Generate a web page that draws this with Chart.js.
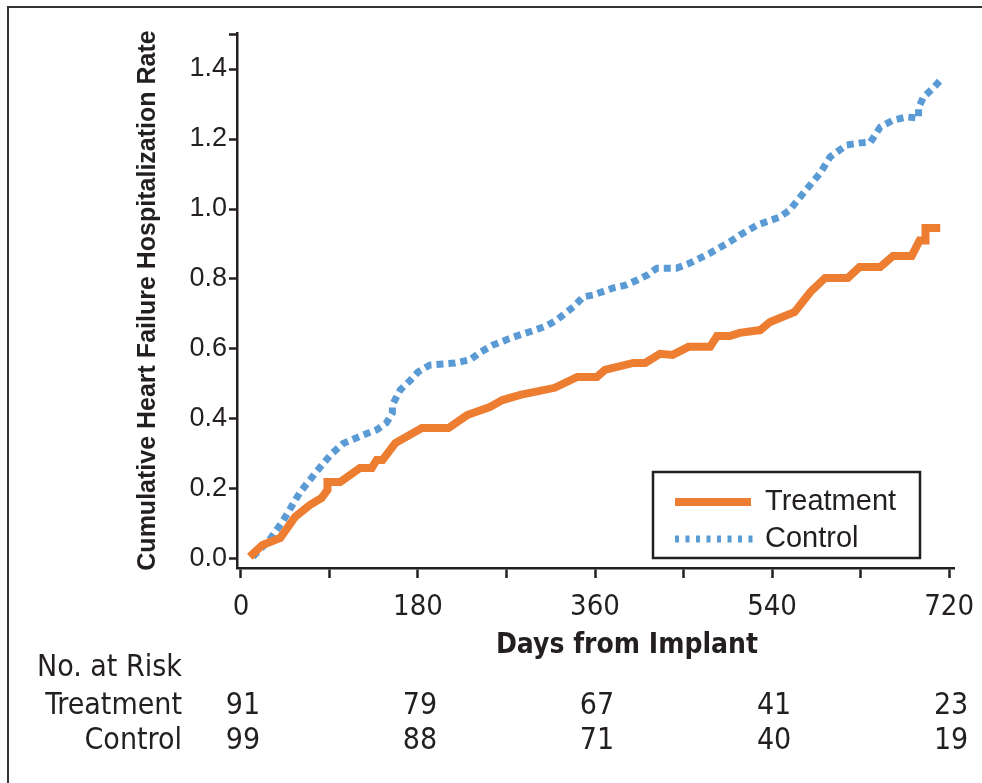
<!DOCTYPE html>
<html>
<head>
<meta charset="utf-8">
<script src="https://cdn.jsdelivr.net/npm/chart.js@4.4.0/dist/chart.umd.min.js"></script>
<style>
  html, body { margin: 0; padding: 0; background: #fff; }
  canvas { display: block; }
</style>
</head>
<body>
<canvas id="myChart" width="982" height="783"></canvas>
<script>
// cumulative HF hospitalization rate
const treatmentDays = [9, 22, 40, 55, 70, 82, 88, 88, 101, 121, 133, 138, 144, 157, 184, 211, 230, 253, 266, 284, 319, 342, 362, 370, 399, 411, 426, 439, 455, 477, 484, 497, 507, 528, 538, 563, 579, 594, 617, 629, 650, 663, 682, 690, 696, 696, 711];
const treatmentRate = [0.006, 0.04, 0.06, 0.12, 0.154, 0.174, 0.197, 0.22, 0.22, 0.26, 0.26, 0.283, 0.283, 0.331, 0.374, 0.374, 0.411, 0.434, 0.454, 0.469, 0.489, 0.52, 0.52, 0.54, 0.56, 0.56, 0.586, 0.583, 0.606, 0.606, 0.637, 0.637, 0.646, 0.654, 0.677, 0.706, 0.763, 0.803, 0.803, 0.834, 0.834, 0.866, 0.866, 0.91, 0.91, 0.946, 0.946];

const controlDays = [12, 29, 43, 60, 77, 91, 104, 124, 138, 148, 154, 154, 162, 172, 180, 192, 218, 233, 243, 256, 277, 299, 311, 321, 338, 348, 358, 378, 392, 403, 413, 423, 443, 457, 477, 497, 507, 525, 548, 558, 572, 589, 599, 616, 630, 640, 650, 663, 677, 689, 689, 694, 704, 713];
const controlRate = [0.006, 0.054, 0.11, 0.19, 0.25, 0.297, 0.33, 0.354, 0.369, 0.389, 0.417, 0.44, 0.483, 0.51, 0.534, 0.554, 0.56, 0.569, 0.59, 0.611, 0.634, 0.654, 0.666, 0.683, 0.72, 0.749, 0.754, 0.774, 0.783, 0.797, 0.811, 0.831, 0.831, 0.846, 0.874, 0.906, 0.925, 0.954, 0.977, 0.997, 1.046, 1.103, 1.149, 1.183, 1.189, 1.191, 1.234, 1.254, 1.263, 1.26, 1.29, 1.32, 1.346, 1.374];

const xTicks = [0, 90, 180, 270, 360, 450, 540, 630, 720];
const yTicks = [0, 0.2, 0.4, 0.6, 0.8, 1.0, 1.2, 1.4, 1.5];

// number at risk
const riskDays = [0, 180, 360, 540, 720];
const riskTreatment = [91, 79, 67, 41, 23];
const riskControl = [99, 88, 71, 40, 19];

const narrow = "'DejaVu Sans Condensed', 'Liberation Sans', sans-serif";
const regular = "'Liberation Sans', Arial, sans-serif";
const ink = '#231f20';

const extras = {
    id: 'extras',
    beforeDraw(chart) {
        const ctx = chart.ctx;
        ctx.save();
        ctx.fillStyle = '#fff';
        ctx.fillRect(0, 0, chart.width, chart.height);
        ctx.restore();
    },
    afterDraw(chart) {
        const ctx = chart.ctx;
        const x = chart.scales.x;
        const ds = chart.data.datasets;
        ctx.save();

        // outer frame (left + top only)
        ctx.strokeStyle = '#333';
        ctx.lineWidth = 2;
        ctx.beginPath();
        ctx.moveTo(8, 783);
        ctx.lineTo(8, 7);
        ctx.lineTo(982, 7);
        ctx.stroke();

        // legend box
        ctx.strokeStyle = ink;
        ctx.lineWidth = 2.5;
        ctx.strokeRect(653, 472, 267, 86);
        ctx.lineCap = 'butt';
        ctx.strokeStyle = ds[0].borderColor;
        ctx.lineWidth = 8;
        ctx.beginPath(); ctx.moveTo(675, 502); ctx.lineTo(751, 502); ctx.stroke();
        ctx.strokeStyle = ds[1].borderColor;
        ctx.lineWidth = 7;
        ctx.setLineDash([4, 6.5]);
        ctx.beginPath(); ctx.moveTo(675, 539); ctx.lineTo(753, 539); ctx.stroke();
        ctx.setLineDash([]);
        ctx.fillStyle = ink;
        ctx.font = '29px ' + regular;
        ctx.textAlign = 'left';
        ctx.textBaseline = 'middle';
        ctx.fillText(ds[0].label, 765, 502);
        ctx.fillText(ds[1].label, 765, 539);

        // x axis title, sits right of the axis centre in the original
        ctx.textAlign = 'center';
        ctx.font = 'bold 28px ' + narrow;
        ctx.fillText('Days from Implant', 627, 646);

        // number at risk table
        ctx.font = '30px ' + narrow;
        ctx.textAlign = 'left';
        ctx.fillText('No. at Risk', 37, 668);
        ctx.textAlign = 'right';
        ctx.fillText('Treatment', 182, 706);
        ctx.fillText('Control', 182, 741);
        ctx.textAlign = 'center';
        riskDays.forEach((d, i) => {
            const px = x.getPixelForValue(d);
            ctx.fillText(String(riskTreatment[i]), px + 2, 706);
            ctx.fillText(String(riskControl[i]), px + 2, 741);
        });
        ctx.restore();
    }
};

const ctx = document.getElementById('myChart').getContext('2d');

const myChart = new Chart(ctx, {
    type: 'line',
    data: {
        datasets: [{
            label: 'Treatment',
            data: treatmentDays.map((d, i) => ({ x: d, y: treatmentRate[i] })),
            borderColor: '#ED7D31',
            borderWidth: 8,
            pointRadius: 0,
            tension: 0,
            fill: false
        }, {
            label: 'Control',
            data: controlDays.map((d, i) => ({ x: d, y: controlRate[i] })),
            borderColor: '#5B9BD5',
            borderWidth: 7,
            borderDash: [7, 5],
            pointRadius: 0,
            tension: 0,
            fill: false
        }]
    },
    options: {
        responsive: false,
        animation: false,
        devicePixelRatio: 1,
        layout: { padding: { left: 133, right: 28, top: 33, bottom: 121 } },
        plugins: { legend: { display: false }, tooltip: { enabled: false } },
        scales: {
            x: {
                type: 'linear',
                min: -4,
                max: 725,
                afterBuildTicks: s => { s.ticks = xTicks.map(v => ({ value: v })); },
                afterFit: s => { s.height = 94; s.paddingLeft = 0; s.paddingRight = 0; },
                ticks: {
                    callback: v => (v % 180 === 0 ? String(v) : ''),
                    autoSkip: false,
                    maxRotation: 0,
                    padding: 12,
                    color: ink,
                    font: { family: narrow, size: 29 }
                },
                grid: { drawOnChartArea: false, drawTicks: true, tickLength: 10, tickWidth: 2.5, color: ink },
                border: { display: true, color: ink, width: 2.5 }
            },
            y: {
                min: -0.026,
                max: 1.503,
                afterBuildTicks: s => { s.ticks = yTicks.map(v => ({ value: v })); },
                afterFit: s => { s.width = 104; s.paddingTop = 0; s.paddingBottom = 0; },
                ticks: {
                    callback: v => (v > 1.45 ? '' : v.toFixed(1)),
                    padding: 2,
                    color: ink,
                    font: { family: regular, size: 27 }
                },
                grid: { drawOnChartArea: false, drawTicks: true, tickLength: 8, tickWidth: 2.5, color: ink },
                border: { display: true, color: ink, width: 2.5 },
                title: {
                    display: true,
                    text: 'Cumulative Heart Failure Hospitalization Rate',
                    color: ink,
                    font: { family: regular, size: 25, weight: 'bold' },
                    padding: 0
                }
            }
        }
    },
    plugins: [extras]
});
</script>
</body>
</html>
